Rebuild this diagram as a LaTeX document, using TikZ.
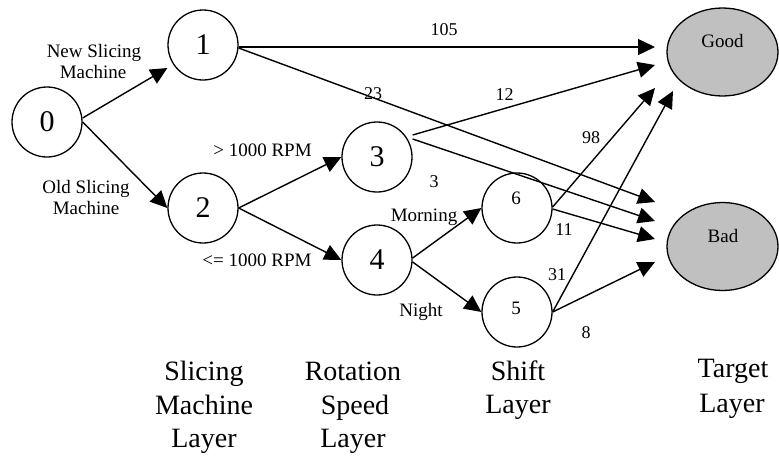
\documentclass[tikz,border=0pt]{standalone}
\usepackage{fontspec}
\setmainfont{Liberation Serif}
\usetikzlibrary{arrows.meta,shapes.geometric}
\definecolor{tgtgray}{HTML}{C0C0C0}
\begin{document}
\begin{tikzpicture}[x=1pt,y=-1pt,
  bigcirc/.style={circle,draw,line width=1.3pt,minimum size=70pt,inner sep=0pt,font=\fontsize{30}{30}\selectfont},
  smallcirc/.style={circle,draw,line width=1.3pt,minimum size=70pt,inner sep=0pt},
  target/.style={ellipse,draw,line width=1.3pt,fill=tgtgray,minimum width=111pt,minimum height=88pt,inner sep=0pt},
  arr/.style={line width=1.4pt,-{Triangle[length=17pt,width=16pt]}},
  lbl/.style={anchor=base,inner sep=0pt,font=\fontsize{19}{22}\selectfont},
  num/.style={anchor=base,inner sep=0pt,font=\fontsize{18}{20}\selectfont},
  layer/.style={anchor=base,inner sep=0pt,font=\fontsize{28}{33}\selectfont},
]
\useasboundingbox (0,0) rectangle (779,461);

% nodes
\node[bigcirc] (n0) at (47,122) {0};
\node[bigcirc] (n1) at (203,45) {1};
\node[bigcirc] (n2) at (203,208) {2};
\node[bigcirc] (n3) at (377,157) {3};
\node[bigcirc] (n4) at (377,260) {4};
\node[smallcirc] (n6) at (517,208) {};
\node[lbl] (t6) at (516,204) {6};
\node[smallcirc] (n5) at (517,312) {};
\node[lbl] (t5) at (516,314) {5};
\node[target] (good) at (722.5,52) {};
\node[lbl] (tgood) at (722.5,47) {Good};
\node[target] (bad) at (722.5,246.5) {};
\node[lbl] (tbad) at (723,242) {Bad};

% arrow ends near targets
\coordinate (g1) at (655,47);
\coordinate (g3) at (655,65);
\coordinate (g6) at (655,88);
\coordinate (g5) at (673,91);
\coordinate (b1) at (655,202);
\coordinate (b3) at (655,221);
\coordinate (b6) at (655,239);
\coordinate (b5) at (655,262);

% connectors
\draw[arr] ([yshift=4pt]n0.east) -- ([yshift=-23pt]n1.west);
\draw[arr] (n0.east) -- (n2.west);
\draw[arr] (n2.east) -- (n3.west);
\draw[arr] (n2.east) -- (n4.west);
\draw[arr] ([yshift=2pt]n4.east) -- (n6.west);
\draw[arr] ([yshift=-2pt]n4.east) -- (n5.west);
\draw[arr] ([yshift=-2pt]n1.east) -- (g1);
\draw[arr] ([yshift=-3pt]n1.east) -- (b1);
\draw[arr] ([yshift=22pt]n3.east) -- (g3);
\draw[arr] ([yshift=18pt]n3.east) -- (b3);
\draw[arr] ([yshift=1pt]n6.east) -- (g6);
\draw[arr] ([yshift=-1pt]n6.east) -- (b6);
\draw[arr] (n5.east) -- (g5);
\draw[arr] (n5.east) -- (b5);

% edge labels
\node[lbl] (la) at (94,57) {New Slicing};
\node[lbl] (lb) at (93,78) {Machine};
\node[lbl] (lc) at (86,193) {Old Slicing};
\node[lbl] (ld) at (86,214) {Machine};
\node[lbl] (le) at (262.5,156) {> 1000 RPM};
\node[lbl] (lf) at (257,266) {<= 1000 RPM};
\node[lbl] (lg) at (424,221) {Morning};
\node[lbl] (lh) at (421,316) {Night};
\node[num] (m105) at (444,35) {105};
\node[num] (m23) at (373,99) {23};
\node[num] (m12) at (504.5,100) {12};
\node[num] (m3) at (434,187) {3};
\node[num] (m98) at (591,143) {98};
\node[num] (m11) at (564,235) {11};
\node[num] (m31) at (557,280) {31};
\node[num] (m8) at (586,338) {8};

% layer captions
\node[layer] (c1a) at (204,380) {Slicing};
\node[layer] (c1b) at (204,414) {Machine};
\node[layer] (c1c) at (204,447) {Layer};
\node[layer] (c2a) at (353,380) {Rotation};
\node[layer] (c2b) at (355,414) {Speed};
\node[layer] (c2c) at (353,447) {Layer};
\node[layer] (c3a) at (518,380) {Shift};
\node[layer] (c3b) at (518,413) {Layer};
\node[layer] (c4a) at (733,377) {Target};
\node[layer] (c4b) at (732,412) {Layer};
\end{tikzpicture}
\end{document}
